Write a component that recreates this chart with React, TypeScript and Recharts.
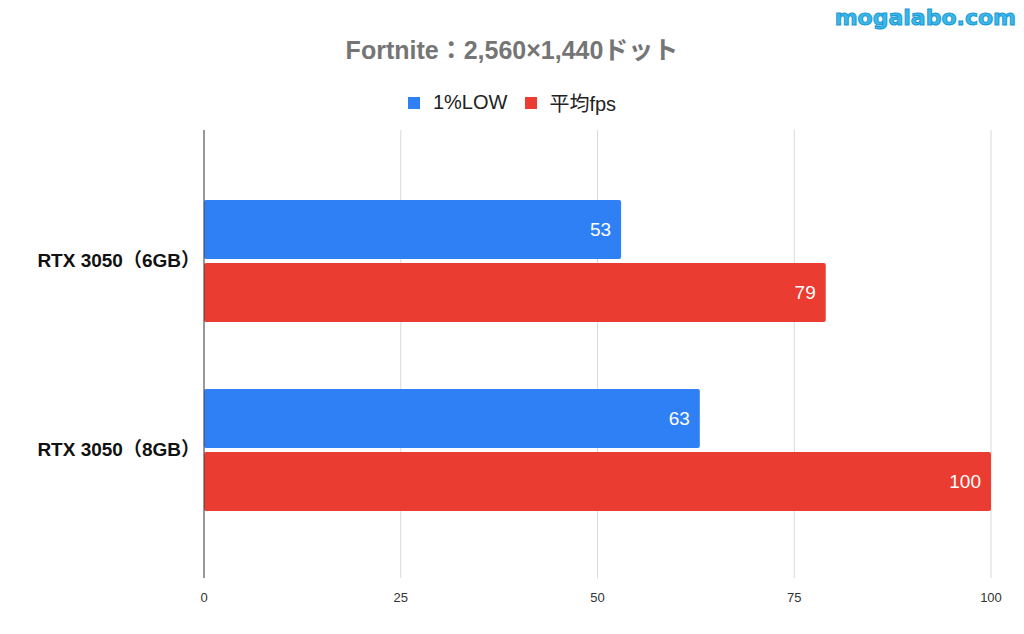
import { BarChart, Bar, XAxis, YAxis, CartesianGrid, LabelList, ReferenceLine } from 'recharts';

// GPU models and their fps values
const categories = ['RTX 3050（6GB）', 'RTX 3050（8GB）'];
const lowFps = [53, 63];
const avgFps = [79, 100];
const xTicks = [0, 25, 50, 75, 100];

const data = categories.map((name, i) => ({ name, low: lowFps[i], avg: avgFps[i] }));

const FONT = '"Liberation Sans", Arial, "Noto Sans CJK JP", sans-serif';
const BLUE = '#2f80f4';
const RED = '#ea3c30';

const App = () => {
  return (
    <div style={{ position: 'absolute', left: 0, top: 0, width: 1024, height: 634, background: '#fff' }}>
      <div style={{ position: 'absolute', top: 30, width: 1024, textAlign: 'center', fontFamily: FONT, fontSize: 25, fontWeight: 'bold', color: '#757575' }}>
        Fortnite：2,560×1,440ドット
      </div>
      <div style={{ position: 'absolute', top: 88, width: 1024, display: 'flex', justifyContent: 'center', gap: 18, fontFamily: FONT, fontSize: 20, color: '#222' }}>
        <span style={{ display: 'flex', alignItems: 'center' }}>
          <span style={{ width: 12, height: 12, background: BLUE, marginRight: 13 }} />1%LOW
        </span>
        <span style={{ display: 'flex', alignItems: 'center' }}>
          <span style={{ width: 12, height: 12, background: RED, marginRight: 12 }} />平均fps
        </span>
      </div>
      <svg style={{ position: 'absolute', left: 0, top: 0 }} width={1024} height={40}>
        <text x={1016} y={25} textAnchor="end" fontFamily="'DejaVu Sans', sans-serif" fontWeight="bold" fontSize={22}
          fill="#3cb8ea" stroke="#1a98d5" strokeWidth={1}>mogalabo.com</text>
      </svg>
      <BarChart
        style={{ position: 'absolute', left: 0, top: 0 }}
        width={1024}
        height={634}
        data={data}
        layout="vertical"
        margin={{ top: 130, right: 33, bottom: 26, left: 0 }}
        barSize={59}
        barGap={4}
      >
        <CartesianGrid horizontal={false} stroke="#d9d9d9" />
        <XAxis
          type="number"
          domain={[0, 100]}
          ticks={xTicks}
          axisLine={false}
          tickLine={false}
          tickMargin={9}
          height={30}
          tick={{ fontSize: 13, fill: '#333', fontFamily: FONT }}
        />
        <YAxis
          type="category"
          dataKey="name"
          width={204}
          axisLine={false}
          tickLine={false}
          tickSize={0}
          tickMargin={4}
          padding={{ top: 36, bottom: 34 }}
          tick={{ fontSize: 19, fill: '#111', fontFamily: FONT, fontWeight: 600 }}
        />
        <ReferenceLine x={0} stroke="#444" />
        <Bar dataKey="low" name="1%LOW" fill={BLUE} radius={2} isAnimationActive={false}>
          <LabelList dataKey="low" position="insideRight" fill="#fff" fontSize={19} fontFamily={FONT} offset={10} />
        </Bar>
        <Bar dataKey="avg" name="平均fps" fill={RED} radius={2} isAnimationActive={false}>
          <LabelList dataKey="avg" position="insideRight" fill="#fff" fontSize={19} fontFamily={FONT} offset={10} />
        </Bar>
      </BarChart>
    </div>
  );
};

export default App;
